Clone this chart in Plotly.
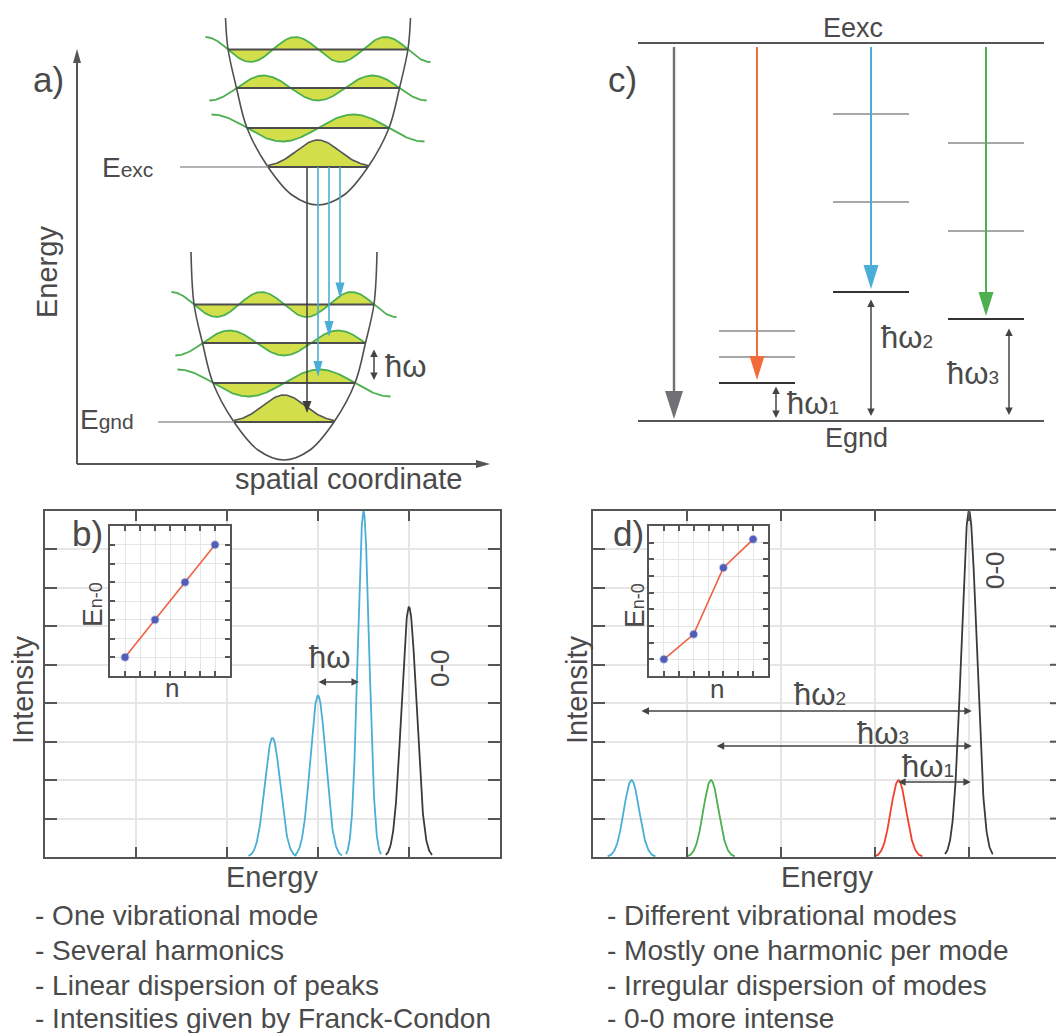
import numpy as np
import plotly.graph_objects as go

W, H = 1056, 1033
FONT = 'Liberation Sans, Arial, Helvetica, sans-serif'
TXT = '#4a4a4a'
FRAME = '#555555'
GRID = '#e6e6e6'
BLUE = '#4aaed6'
GREEN = '#4caf50'
RED = '#f2402a'
ORANGE = '#f26b3a'
BLACK = '#3a3a3a'
FILL = '#d2df4a'
WAVE = '#4caf50'
LEVEL = '#4d4d4d'
LIGHT = '#a8a8a8'
ARROW = '#444444'

# ---------------- panel b: one mode, several harmonics ----------------
b_peak_pos = [2.5, 3.0, 3.5, 4.0]
b_peak_height = [3.1, 4.2, 9.0, 6.5]
b_peak_width = [0.085, 0.085, 0.062, 0.082]
b_peak_color = [BLUE, BLUE, BLUE, BLACK]
b_inset_n = [1, 3, 5, 7]
b_inset_e = [1, 3, 5, 7]

# ---------------- panel d: several modes ----------------
d_peak_pos = [0.41, 1.255, 3.25, 4.0]
d_peak_height = [2.0, 2.0, 2.0, 9.0]
d_peak_width = [0.082, 0.082, 0.082, 0.082]
d_peak_color = [BLUE, GREEN, RED, BLACK]
d_inset_n = [1, 3, 5, 7]
d_inset_e = [1, 2.5, 6.5, 8.2]

# ---------------- panel a: potential wells (drawing units = px) ----------------
wall_dy = [0, 10, 38, 77, 117, 156]
wall_hw = [0, 26, 50, 71, 81.5, 90]
level_dy = [38, 77, 117, 155.5]
level_hw = [50, 71, 81.5, 90]
level_amp = [27, 13.5, 12.5, 12.5]
well_cx = [318, 284]
well_bottom = [205, 460]
well_top_dy = [187, 208]
well_top_hw = [92.5, 93]
well_right_tail = [[True, True, True], [True, False, True]]
a_black_x = 307
a_blue_x = [318, 329, 340]

# ---------------- panel c: level scheme (drawing units = px) ----------------
c_exc_y, c_gnd_y = 43, 421
c_x0, c_x1 = 638, 1044
c_gray_x = 674
c_mode_x = [757, 871, 986]
c_mode_color = [ORANGE, BLUE, GREEN]
c_mode_levels = [[383, 357, 331], [292, 202, 114], [319, 231, 143]]
c_level_hw = 38

fig = go.Figure()


def line(xs, ys, color, width, xa='x', ya='y', shape='linear'):
    fig.add_trace(go.Scatter(x=list(xs), y=list(ys), mode='lines',
                             line=dict(color=color, width=width, shape=shape),
                             xaxis=xa, yaxis=ya, hoverinfo='skip', showlegend=False))


def poly(xs, ys, color, xa='x', ya='y', lc=None, lw=0):
    xs = list(xs) + [list(xs)[0]]
    ys = list(ys) + [list(ys)[0]]
    fig.add_trace(go.Scatter(x=xs, y=ys, mode='lines', fill='toself', fillcolor=color,
                             line=dict(color=lc or color, width=lw),
                             xaxis=xa, yaxis=ya, hoverinfo='skip', showlegend=False))


def down_arrow(x, y0, ytip, color, lw, hw, hl):
    line([x, x], [y0, ytip - hl + 2], color, lw)
    poly([x - hw / 2, x + hw / 2, x], [ytip - hl, ytip - hl, ytip], color)


def dbl(x0, y0, x1, y1, ref=('x', 'y'), size=1.0, width=1.5):
    fig.add_annotation(x=x1, y=y1, ax=x0, ay=y0, xref=ref[0], yref=ref[1],
                       axref=ref[0], ayref=ref[1], text='', showarrow=True,
                       arrowhead=2, startarrowhead=2, arrowside='end+start',
                       arrowsize=size, startarrowsize=size, arrowwidth=width,
                       arrowcolor=ARROW, standoff=0, startstandoff=0)


def txt(x, y, s, size, xanchor='center', angle=0, color=TXT):
    fig.add_annotation(x=x, y=y, xref='x', yref='y', text=s, showarrow=False,
                       xanchor=xanchor, yanchor='middle', textangle=angle,
                       font=dict(family=FONT, size=size, color=color))


# ================= panel a =================
# energy / coordinate axes
line([77, 77], [464, 60], FRAME, 2)
poly([73, 81, 77], [63, 63, 49], FRAME)
line([77, 478], [464, 464], FRAME, 2)
poly([476, 476, 490], [460, 468, 464], FRAME)

for w in range(2):
    cx, yb = well_cx[w], well_bottom[w]
    # wave functions and levels
    for n in range(4):
        ylev = yb - level_dy[n]
        hw = level_hw[n]
        x0, x1 = cx - hw, cx + hw
        if n == 0:
            xs = np.linspace(x0, x1, 120)
            ys = ylev - level_amp[0] * np.exp(-(xs - cx) ** 2 / (2 * (0.42 * hw) ** 2))
            poly(list(xs) + [x1, x0], list(ys) + [ylev, ylev], FILL)
            line(xs, ys, '#555555', 1.6)
        else:
            sgn = (-1) ** n
            k = (n + 1) * np.pi
            u = np.linspace(0, 1, 200)
            xs = x0 + u * 2 * hw
            ys = ylev - level_amp[n] * sgn * np.sin(k * u)
            poly(list(xs) + [x1, x0], list(ys) + [ylev, ylev], FILL)
            q = 1.0 / (2 * (n + 1))
            u_end = 1 + q if well_right_tail[w][n - 1] else 1.0
            ul = np.linspace(-q, u_end, 260)
            line(x0 + ul * 2 * hw, ylev - level_amp[n] * sgn * np.sin(k * ul), WAVE, 1.8)
        line([x0, x1], [ylev, ylev], LEVEL, 2)
    # potential wall
    dys = [well_top_dy[w]] + wall_dy[:0:-1] + [0] + wall_dy[1:] + [well_top_dy[w]]
    hws = [-well_top_hw[w]] + [-h for h in wall_hw[:0:-1]] + [0] + wall_hw[1:] + [well_top_hw[w]]
    line([cx + h for h in hws], [yb - d for d in dys], '#505050', 1.6, shape='spline')

# ground / excited state reference lines
y_exc = well_bottom[0] - level_dy[0]
y_gnd = well_bottom[1] - level_dy[0]
line([180, well_cx[0] - level_hw[0]], [y_exc, y_exc], '#9a9a9a', 1.6)
line([158, well_cx[1] - level_hw[0]], [y_gnd, y_gnd], '#9a9a9a', 1.6)

# transitions
down_arrow(a_black_x, y_exc, y_gnd - 9, '#3d3d3d', 1.5, 9, 12)
for i, xb in enumerate(a_blue_x):
    ytarget = well_bottom[1] - level_dy[i + 1] - 6
    down_arrow(xb, y_exc, ytarget, BLUE, 1.6, 9, 16)

dbl(374, 348, 374, 380)
txt(405, 366, 'ħω', 31)
txt(155, 167, 'E<span style="font-size:21px">exc</span>', 28, xanchor='right')
txt(136, 419, 'E<span style="font-size:21px">gnd</span>', 28, xanchor='right')
txt(47, 272, 'Energy', 29, angle=-90)
txt(348, 479, 'spatial coordinate', 29)
txt(31, 79, 'a)', 35, xanchor='left')

# ================= panel c =================
line([c_x0, c_x1], [c_exc_y, c_exc_y], FRAME, 2)
line([c_x0, c_x1], [c_gnd_y, c_gnd_y], FRAME, 2)
down_arrow(c_gray_x, c_exc_y + 4, c_gnd_y - 2, '#707075', 2.4, 18, 28)
for i in range(3):
    xm = c_mode_x[i]
    lv = c_mode_levels[i]
    for j, yl in enumerate(lv):
        line([xm - c_level_hw, xm + c_level_hw], [yl, yl], '#333333' if j == 0 else LIGHT, 2)
    down_arrow(xm, c_exc_y + 4, lv[0] - 3, c_mode_color[i], 2, 15, 24)

dbl(776, 385, 776, 418)
dbl(871, 298, 871, 416)
dbl(1009, 327, 1009, 415)
SUB = '<span style="font-size:19px">%s</span>'
txt(813, 403, 'ħω' + SUB % '1', 31)
txt(907, 337, 'ħω' + SUB % '2', 31)
txt(973, 373, 'ħω' + SUB % '3', 31)
txt(853, 28, 'Eexc', 27)
txt(856, 438, 'Egnd', 27)
txt(606, 79, 'c)', 35, xanchor='left')

# ================= panel b =================
for p, h, s, c in zip(b_peak_pos, b_peak_height, b_peak_width, b_peak_color):
    xs = np.linspace(p - 3.1 * s, p + 3.1 * s, 150)
    line(xs, h * np.exp(-(xs - p) ** 2 / (2 * s ** 2)), c, 1.8, 'x2', 'y2')
line(b_inset_n, b_inset_e, '#f06040', 1.6, 'x3', 'y3')
fig.add_trace(go.Scatter(x=b_inset_n, y=b_inset_e, mode='markers', xaxis='x3', yaxis='y3',
                         marker=dict(size=7, color='#4f5fb8', line=dict(color='rgba(79,95,184,0.35)', width=2)),
                         hoverinfo='skip', showlegend=False))
dbl(2.99, 4.55, 3.45, 4.55, ref=('x2', 'y2'))
txt(329, 657, 'ħω', 31)
txt(440, 668, '0-0', 26, angle=-90)
txt(70, 533, 'b)', 35, xanchor='left')
txt(23, 690, 'Intensity', 29, angle=-90)
txt(272, 877, 'Energy', 29)
txt(92, 605, 'E<span style="font-size:18px">n-0</span>', 28, angle=-90)
txt(172, 688, 'n', 26)

# ================= panel d =================
for p, h, s, c in zip(d_peak_pos, d_peak_height, d_peak_width, d_peak_color):
    xs = np.linspace(p - 3.1 * s, p + 3.1 * s, 150)
    line(xs, h * np.exp(-(xs - p) ** 2 / (2 * s ** 2)), c, 1.8, 'x4', 'y4')
line(d_inset_n, d_inset_e, '#f06040', 1.6, 'x5', 'y5')
fig.add_trace(go.Scatter(x=d_inset_n, y=d_inset_e, mode='markers', xaxis='x5', yaxis='y5',
                         marker=dict(size=7, color='#4f5fb8', line=dict(color='rgba(79,95,184,0.35)', width=2)),
                         hoverinfo='skip', showlegend=False))
dbl(0.5, 3.8, 4.03, 3.8, ref=('x4', 'y4'))
dbl(1.3, 2.89, 4.03, 2.89, ref=('x4', 'y4'))
dbl(3.23, 1.95, 4.02, 1.95, ref=('x4', 'y4'))
txt(820, 694, 'ħω' + SUB % '2', 31)
txt(883, 733, 'ħω' + SUB % '3', 31)
txt(928, 766, 'ħω' + SUB % '1', 31)
txt(995, 570, '0-0', 26, angle=-90)
txt(611, 533, 'd)', 35, xanchor='left')
txt(577, 690, 'Intensity', 29, angle=-90)
txt(827, 877, 'Energy', 29)
txt(634, 606, 'E<span style="font-size:18px">n-0</span>', 28, angle=-90)
txt(717, 689, 'n', 26)

# right-edge tick stubs of panel d (frame lies just beyond the page)
d_xmax = 5.0
for yv in range(1, 9):
    fig.add_shape(type='line', xref='x4', yref='y4', x0=d_xmax - 13 / 94, x1=d_xmax, y0=yv, y1=yv,
                  line=dict(color=FRAME, width=2))


def dx(a, b):
    return [a / W, min(b / W, 1.0)]


def dy(top, bottom):
    return [1 - bottom / H, 1 - top / H]


def frame_axis(domain, rng, ticks, anchor, mirror='ticks', ticklen=12, lw=2, gw=1.5):
    return dict(domain=domain, range=rng, anchor=anchor, showgrid=True, gridcolor=GRID,
                gridwidth=gw, zeroline=False, showline=True, linecolor=FRAME, linewidth=lw,
                mirror=mirror, ticks='inside', ticklen=ticklen, tickwidth=lw, tickcolor=FRAME,
                tickvals=ticks, showticklabels=False, fixedrange=True)


layout = dict(
    width=W, height=H, margin=dict(l=0, r=0, t=0, b=0),
    paper_bgcolor='white', plot_bgcolor='white', showlegend=False,
    xaxis=dict(domain=[0, 1], range=[0, W], visible=False, fixedrange=True),
    yaxis=dict(domain=[0, 1], range=[H, 0], visible=False, fixedrange=True),
    xaxis2=frame_axis(dx(45, 500), [0, 5], [1, 2, 3, 4], 'y2', ticklen=10),
    yaxis2=frame_axis(dy(511, 857), [0, 9], list(range(1, 9)), 'x2'),
    xaxis3=frame_axis(dx(110, 230), [0, 8], list(range(1, 8)), 'y3', ticklen=5, lw=1.8, gw=1.2),
    yaxis3=frame_axis(dy(526, 676), [0, 8], list(range(1, 8)), 'x3', ticklen=5, lw=1.8, gw=1.2),
    xaxis4=frame_axis(dx(593, 1056), [0, (1056 - 593) / 94], [1, 2, 3, 4], 'y4', ticklen=10),
    yaxis4=frame_axis(dy(511, 857), [0, 9], list(range(1, 9)), 'x4', mirror=False),
    xaxis5=frame_axis(dx(649, 768), [0, 8], list(range(1, 8)), 'y5', ticklen=5, lw=1.8, gw=1.2),
    yaxis5=frame_axis(dy(526, 676), [0, 9], list(range(1, 9)), 'x5', ticklen=5, lw=1.8, gw=1.2),
)
fig.update_layout(**layout)

# bottom notes
left_notes = ['- One vibrational mode', '- Several harmonics',
              '- Linear dispersion of peaks', '- Intensities given by Franck-Condon']
right_notes = ['- Different vibrational modes', '- Mostly one harmonic per mode',
               '- Irregular dispersion of modes', '- 0-0 more intense']
note_y = [915, 950, 985, 1018]
for s, y in zip(left_notes, note_y):
    txt(33, y, s, 28, xanchor='left')
for s, y in zip(right_notes, note_y):
    txt(605, y, s, 28, xanchor='left')

fig.write_html('out.html')
